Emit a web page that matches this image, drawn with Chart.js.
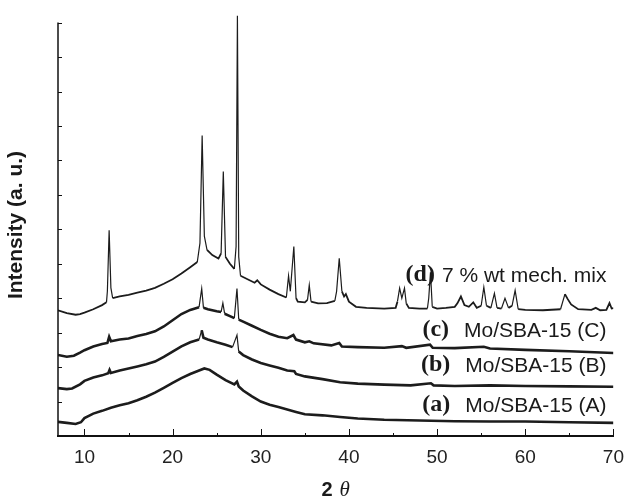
<!DOCTYPE html>
<html>
<head>
<meta charset="utf-8">
<script src="https://cdn.jsdelivr.net/npm/chart.js@4"></script>
<style>
  html, body { margin: 0; padding: 0; background: #fff; }
  canvas { display: block; }
</style>
</head>
<body>
<canvas id="xrd" width="634" height="499"></canvas>
<script>
// 2-theta / intensity, one pair of arrays per pattern
const xA = [7, 8, 9, 9.6, 10, 11, 12, 13, 14, 15, 16, 17, 18, 19, 20, 21, 22, 23, 23.6, 24.2, 25, 26, 27, 27.3, 27.5, 28, 29, 30, 31, 32, 33, 34, 35, 37, 39, 41, 44, 48, 52, 56, 60, 65, 70];
const yA = [0.41, 0.38, 0.35, 0.4, 0.52, 0.65, 0.73, 0.82, 0.89, 0.95, 1.04, 1.14, 1.26, 1.4, 1.54, 1.68, 1.8, 1.9, 1.96, 1.92, 1.78, 1.62, 1.5, 1.58, 1.44, 1.32, 1.15, 1.0, 0.91, 0.84, 0.77, 0.7, 0.63, 0.6, 0.55, 0.51, 0.47, 0.45, 0.43, 0.42, 0.42, 0.4, 0.38];

const xB = [7, 8, 8.6, 9.5, 10, 11, 12, 12.7, 12.85, 13, 14, 15, 16, 17, 18, 19, 20, 21, 22, 23, 23.3, 23.5, 24, 25, 26, 26.8, 27.3, 27.5, 28, 29, 30, 31, 32, 33, 33.8, 34, 35, 37, 39, 41, 44, 47, 49.3, 49.6, 52, 56, 60, 65, 70];
const yB = [1.39, 1.36, 1.38, 1.5, 1.6, 1.7, 1.76, 1.82, 1.92, 1.83, 1.9, 1.96, 2.02, 2.08, 2.16, 2.3, 2.45, 2.6, 2.72, 2.8, 3.07, 2.85, 2.8, 2.72, 2.65, 2.58, 2.93, 2.45, 2.35, 2.22, 2.12, 2.05, 1.98, 1.9, 1.88, 1.8, 1.73, 1.65, 1.56, 1.52, 1.49, 1.47, 1.53, 1.47, 1.45, 1.47, 1.45, 1.44, 1.43];

const xC = [7, 8, 8.8, 9.5, 10, 11, 12, 12.6, 12.8, 13, 14, 15, 16, 17, 18, 19, 20, 21, 22, 23, 23.3, 23.5, 24, 25, 25.5, 25.7, 25.9, 26.5, 27, 27.3, 27.5, 28, 29, 30, 31, 32, 33, 33.7, 34, 35, 35.5, 36, 38, 38.9, 39.2, 41, 44, 46, 46.5, 49.2, 49.5, 52, 55.3, 56, 60, 65, 70];
const yC = [2.35, 2.3, 2.33, 2.42, 2.49, 2.6, 2.67, 2.7, 2.88, 2.75, 2.8, 2.83, 2.9, 2.96, 3.04, 3.18, 3.36, 3.54, 3.66, 3.74, 4.28, 3.72, 3.68, 3.62, 3.6, 3.86, 3.55, 3.48, 3.42, 4.28, 3.38, 3.32, 3.2, 3.08, 2.97, 2.88, 2.84, 2.93, 2.8, 2.72, 2.75, 2.69, 2.63, 2.7, 2.6, 2.58, 2.56, 2.61, 2.56, 2.65, 2.56, 2.55, 2.59, 2.54, 2.5, 2.46, 2.41];

const xD = [7, 8, 9, 9.5, 10, 11, 12, 12.5, 12.6, 12.8, 13.0, 13.2, 14, 15, 16, 17, 18, 19, 20, 21, 22, 22.8, 23.1, 23.35, 23.6, 23.9, 24.5, 25.2, 25.5, 25.75, 26.0, 26.5, 27.0, 27.2, 27.35, 27.5, 27.7, 28.5, 29.3, 29.6, 30, 31, 32, 32.9, 33.15, 33.35, 33.75, 34.0, 34.2, 35.0, 35.3, 35.5, 35.7, 36.5, 37.5, 38.4, 38.6, 38.9, 39.2, 39.45, 39.65, 40.0, 40.8, 42, 44, 45.3, 45.5, 45.75, 46.0, 46.3, 46.5, 46.8, 48, 48.9, 49.05, 49.25, 49.45, 50, 51, 52.0, 52.3, 52.7, 53.1, 53.6, 54.1, 54.5, 55.0, 55.3, 55.6, 56.1, 56.5, 56.8, 57.3, 57.7, 58.1, 58.5, 58.85, 59.2, 60, 62, 64, 64.5, 64.8, 65.2, 66, 67.5, 68, 68.5, 69.2, 69.55, 69.8, 70];
const yD = [3.65, 3.57, 3.52, 3.54, 3.58, 3.68, 3.8, 3.88, 4.2, 5.97, 4.3, 4.0, 4.05, 4.1, 4.16, 4.22, 4.3, 4.42, 4.55, 4.72, 4.9, 5.05, 5.6, 8.72, 5.8, 5.4, 5.25, 5.15, 5.3, 7.68, 5.2, 5.0, 4.85, 5.5, 12.2, 5.2, 4.65, 4.55, 4.45, 4.52, 4.4, 4.25, 4.12, 4.02, 4.65, 4.2, 5.5, 4.0, 3.9, 3.88, 3.95, 4.38, 3.9, 3.85, 3.86, 3.92, 4.2, 5.16, 4.2, 4.05, 4.12, 3.9, 3.75, 3.72, 3.7, 3.72, 3.9, 4.29, 4.0, 4.29, 3.85, 3.72, 3.7, 3.7, 4.0, 4.75, 3.75, 3.7, 3.72, 3.75, 3.85, 4.05, 3.8, 3.75, 3.88, 3.72, 3.78, 4.32, 3.78, 3.72, 4.14, 3.72, 3.7, 4.0, 3.72, 3.78, 4.23, 3.68, 3.66, 3.65, 3.68, 4.12, 3.98, 3.82, 3.68, 3.66, 3.72, 3.65, 3.66, 3.86, 3.7, 3.71];

const traceNames = ['Mo/SBA-15 (A)', 'Mo/SBA-15 (B)', 'Mo/SBA-15 (C)', '7 % wt mech. mix'];
const traceTags  = ['(a)', '(b)', '(c)', '(d)'];

const xTicks      = [10, 20, 30, 40, 50, 60, 70];
const xMinorTicks = [15, 25, 35, 45, 55, 65];
const yTicks      = [0, 1, 2, 3, 4, 5, 6, 7, 8, 9, 10, 11, 12];

const toPoints = (xs, ys) => xs.map((x, i) => ({ x, y: ys[i] }));

// thin stroke on the sharp reflections, fatter on the noisy baseline
function traceWidth(base) {
  return ctx => Math.abs(ctx.p1.parsed.y - ctx.p0.parsed.y) > 0.25 ? 1.2 : base;
}

function makeTrace(label, xs, ys, base) {
  return {
    label,
    data: toPoints(xs, ys),
    borderColor: '#1c1c1c',
    borderWidth: base,
    pointRadius: 0,
    tension: 0,
    fill: false,
    segment: { borderWidth: traceWidth(base) },
  };
}

const SANS = '"Liberation Sans", Arial, sans-serif';
const SERIF = '"Liberation Serif", "Times New Roman", serif';

// axis lines pointing inward + trace labels + "2 θ"
const decorations = {
  id: 'decorations',
  afterDraw(chart) {
    const { ctx, chartArea, scales } = chart;
    const xs = scales.x, ys = scales.y;
    const bottom = chartArea.bottom, left = chartArea.left;
    ctx.save();
    ctx.strokeStyle = '#111';

    ctx.lineWidth = 1.5;
    ctx.beginPath();
    ctx.moveTo(left, bottom);
    ctx.lineTo(left, ys.getPixelForValue(yTicks[yTicks.length - 1]));
    ctx.stroke();

    ctx.lineWidth = 1;
    ctx.beginPath();
    yTicks.slice(1).forEach(v => {
      const p = Math.round(ys.getPixelForValue(v)) + 0.5;
      ctx.moveTo(left, p);
      ctx.lineTo(left + 4, p);
    });
    xTicks.forEach(v => {
      const p = Math.round(xs.getPixelForValue(v)) + 0.5;
      ctx.moveTo(p, bottom);
      ctx.lineTo(p, bottom - 7);
    });
    xMinorTicks.forEach(v => {
      const p = Math.round(xs.getPixelForValue(v)) + 0.5;
      ctx.moveTo(p, bottom);
      ctx.lineTo(p, bottom - 3);
    });
    ctx.stroke();

    // sample labels, right aligned near the end of the axis
    const labelY = [0.87, 2.03, 3.05, 4.64];
    const tagGap = [15, 15, 15, 7];
    const right = chartArea.right - 7;
    ctx.fillStyle = '#1a1a1a';
    ctx.textBaseline = 'middle';
    traceNames.forEach((name, i) => {
      const y = ys.getPixelForValue(labelY[i]);
      ctx.font = '21px ' + SANS;
      ctx.textAlign = 'right';
      ctx.fillText(name, right, y);
      const start = right - ctx.measureText(name).width;
      ctx.font = 'bold 24px ' + SERIF;
      ctx.fillText(traceTags[i], start - tagGap[i], y - 1);
    });

    // x title: bold "2" + italic theta
    const cx = (chartArea.left + chartArea.right) / 2;
    const ty = 490;
    ctx.textAlign = 'left';
    ctx.font = 'bold 20px ' + SANS;
    const w2 = ctx.measureText('2').width;
    ctx.font = 'italic 21px ' + SERIF;
    const wt = ctx.measureText('θ').width;
    const x0 = cx - (w2 + 7 + wt) / 2;
    ctx.font = 'bold 20px ' + SANS;
    ctx.fillText('2', x0, ty);
    ctx.font = 'italic 21px ' + SERIF;
    ctx.fillText('θ', x0 + w2 + 7, ty);
    ctx.restore();
  },
};

new Chart(document.getElementById('xrd'), {
  type: 'line',
  data: {
    datasets: [
      makeTrace(traceNames[0], xA, yA, 2.6),
      makeTrace(traceNames[1], xB, yB, 2.6),
      makeTrace(traceNames[2], xC, yC, 2.6),
      makeTrace(traceNames[3], xD, yD, 1.8),
    ],
  },
  options: {
    responsive: false,
    animation: false,
    layout: { padding: { left: 0, right: 14, top: 14, bottom: 0 } },
    plugins: { legend: { display: false }, tooltip: { enabled: false } },
    scales: {
      x: {
        type: 'linear',
        min: 7,
        max: 70,
        grid: { display: false, drawTicks: false },
        border: { display: true, color: '#111', width: 2 },
        afterBuildTicks: s => { s.ticks = xTicks.map(value => ({ value })); },
        afterFit: s => { s.height = 63; },
        ticks: { color: '#222', padding: 10, maxRotation: 0, font: { family: SANS, size: 19 } },
      },
      y: {
        min: 0,
        max: 12.25,
        grid: { display: false, drawTicks: false },
        border: { display: false },
        afterBuildTicks: s => { s.ticks = yTicks.map(value => ({ value })); },
        afterFit: s => { s.width = 58; },
        ticks: { display: false },
        title: {
          display: true,
          text: 'Intensity (a. u.)',
          color: '#1a1a1a',
          font: { family: SANS, size: 21, weight: 'bold' },
          padding: { top: 4, bottom: 0 },
        },
      },
    },
  },
  plugins: [decorations],
});
</script>
</body>
</html>
